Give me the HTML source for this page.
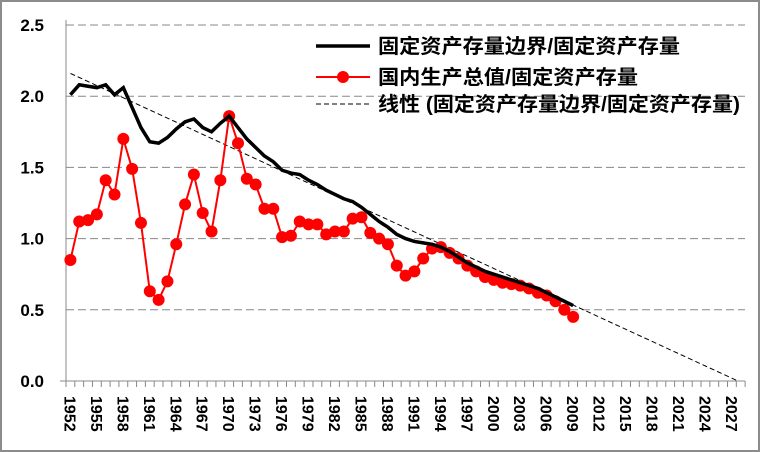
<!DOCTYPE html>
<html><head><meta charset="utf-8"><style>
body{margin:0;background:#fff}
#c{position:absolute;left:0;top:0;width:756px;height:448px;border:2px solid #8c8c8c;}
svg{position:absolute;left:0;top:0}
</style></head><body><div id="c"></div>
<svg id="s" width="760" height="452" xmlns="http://www.w3.org/2000/svg" font-family="Liberation Sans, Noto Sans CJK SC, sans-serif"></svg>
<script>
const s=document.getElementById('s');let h='';
const X0=66,W=8.82,Y0=381,K=142.4;
const cx=i=>X0+W/2+W*i, cy=v=>Y0-v*K;
[0.5,1,1.5,2,2.5].forEach(v=>{h+=`<line x1="${X0}" x2="745" y1="${cy(v)}" y2="${cy(v)}" stroke="#888" stroke-dasharray="8,4" stroke-width="1"/>`});
['0.0','0.5','1.0','1.5','2.0','2.5'].forEach((t,i)=>{h+=`<text x="44" y="${cy(i*0.5)+6}" font-size="17" font-weight="bold" text-anchor="end">${t}</text>`});
h+=`<line x1="${X0}" x2="${X0}" y1="20" y2="${Y0}" stroke="#888"/><line x1="60" x2="745" y1="${Y0}" y2="${Y0}" stroke="#888"/>`;
for(let i=0;i<=77;i++){const x=X0+W*i;h+=`<line x1="${x}" x2="${x}" y1="${Y0}" y2="${Y0+6}" stroke="#888"/>`}
for(let y=1952;y<=2027;y+=3){const x=cx(y-1952);h+=`<text transform="translate(${x-6},${Y0+15}) rotate(90)" font-size="16" font-weight="bold">${y}</text>`}
const r=[0.85,1.12,1.13,1.17,1.41,1.31,1.70,1.49,1.11,0.63,0.57,0.70,0.96,1.24,1.45,1.18,1.05,1.41,1.86,1.67,1.42,1.38,1.21,1.21,1.01,1.02,1.12,1.10,1.10,1.03,1.05,1.05,1.14,1.15,1.04,1.00,0.96,0.81,0.74,0.77,0.86,0.93,0.94,0.90,0.86,0.81,0.77,0.73,0.71,0.69,0.68,0.67,0.65,0.62,0.60,0.56,0.50,0.45];
const b=[2.01,2.08,2.07,2.06,2.08,2.01,2.06,1.92,1.78,1.68,1.67,1.71,1.77,1.82,1.84,1.78,1.75,1.81,1.86,1.78,1.70,1.64,1.58,1.54,1.48,1.46,1.45,1.41,1.38,1.34,1.31,1.28,1.26,1.22,1.17,1.12,1.08,1.03,1.00,0.98,0.97,0.96,0.94,0.91,0.87,0.83,0.80,0.77,0.75,0.73,0.71,0.69,0.67,0.65,0.62,0.59,0.56,0.53];
h+=`<line x1="${cx(0)}" y1="${cy(2.16)}" x2="738" y2="${Y0}" stroke="#000" stroke-dasharray="5,3" stroke-width="1"/>`;
h+=`<polyline fill="none" stroke="#f00" stroke-width="2" points="${r.map((v,i)=>cx(i)+','+cy(v)).join(' ')}"/>`;
r.forEach((v,i)=>{h+=`<circle cx="${cx(i)}" cy="${cy(v)}" r="6" fill="#f00"/>`});
h+=`<polyline fill="none" stroke="#000" stroke-width="3.5" points="${b.map((v,i)=>cx(i)+','+cy(v)).join(' ')}"/>`;
h+=`<line x1="316" x2="370" y1="46" y2="46" stroke="#000" stroke-width="3.5"/><text x="378" y="53" font-size="20" font-weight="bold" textLength="302" lengthAdjust="spacingAndGlyphs">固定资产存量边界/固定资产存量</text>`;
h+=`<line x1="316" x2="370" y1="77" y2="77" stroke="#f00" stroke-width="2"/><circle cx="343" cy="77" r="6" fill="#f00"/><text x="378" y="84" font-size="20" font-weight="bold" textLength="260" lengthAdjust="spacingAndGlyphs">国内生产总值/固定资产存量</text>`;
h+=`<line x1="316" x2="370" y1="104" y2="104" stroke="#000" stroke-dasharray="5,3"/><text x="378" y="111" font-size="20" font-weight="bold" textLength="362" lengthAdjust="spacingAndGlyphs">线性 (固定资产存量边界/固定资产存量)</text>`;
s.innerHTML=h;
</script></body></html>
